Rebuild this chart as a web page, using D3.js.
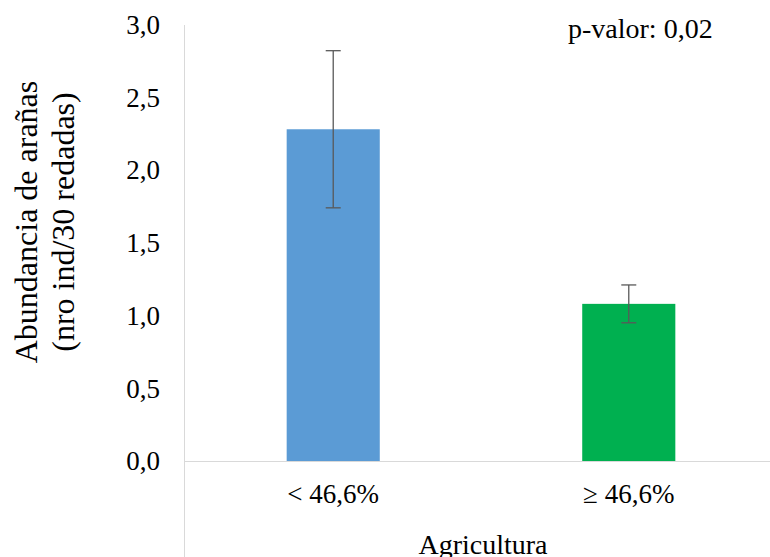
<!DOCTYPE html>
<meta charset="utf-8">
<script src="https://d3js.org/d3.v7.min.js"></script>
<style>
  body { margin: 0; background: #fff; }
</style>
<div id="chart"></div>
<script>

// data
var categories = ["< 46,6%", "\u2265 46,6%"];
var values = [2.28, 1.08];
var errors = [0.54, 0.13];
var colors = ["#5B9BD5", "#00B050"];
var yTicks = [0, 0.5, 1, 1.5, 2, 2.5, 3];

var width = 770, height = 557;
var font = "'Liberation Serif', 'Times New Roman', 'DejaVu Serif', serif";

var svg = d3.select("#chart").append("svg")
    .attr("width", width)
    .attr("height", height)
    .attr("font-family", font);

var x = d3.scaleBand()
    .domain(categories)
    .range([185, 777])
    .paddingInner(0.685)
    .paddingOuter(0.344);

var y = d3.scaleLinear()
    .domain([0, 3])
    .range([461, 24.5]);

// axis lines
svg.append("line")
    .attr("x1", 184.5).attr("x2", 184.5)
    .attr("y1", 25).attr("y2", height)
    .attr("stroke", "#d9d9d9");
svg.append("line")
    .attr("x1", 184).attr("x2", width)
    .attr("y1", y(0) + 0.5).attr("y2", y(0) + 0.5)
    .attr("stroke", "#d9d9d9");

// y tick labels
svg.append("g")
  .selectAll("text")
  .data(yTicks)
  .enter()
  .append("text")
    .attr("x", 160)
    .attr("y", function(d) { return y(d); })
    .attr("dy", "0.35em")
    .attr("text-anchor", "end")
    .style("font-size", "27px")
    .text(function(d) { return d3.format(".1f")(d).replace(".", ","); });

// bars
svg.append("g")
  .selectAll("rect")
  .data(values)
  .enter()
  .append("rect")
    .attr("x", function(d, i) { return x(categories[i]); })
    .attr("width", x.bandwidth())
    .attr("y", function(d) { return y(d); })
    .attr("height", function(d) { return y(0) - y(d); })
    .attr("fill", function(d, i) { return colors[i]; });

// error bars
var eb = svg.append("g")
    .attr("stroke", "#595959")
    .attr("stroke-width", 1.3);
values.forEach(function(v, i) {
  var cx = x(categories[i]) + x.bandwidth() / 2;
  eb.append("line")
    .attr("x1", cx).attr("x2", cx)
    .attr("y1", y(v + errors[i])).attr("y2", y(v - errors[i]));
  [v + errors[i], v - errors[i]].forEach(function(e) {
    eb.append("line")
      .attr("x1", cx - 7.5).attr("x2", cx + 7.5)
      .attr("y1", y(e)).attr("y2", y(e));
  });
});

// category labels
svg.append("g")
  .selectAll("text")
  .data(categories)
  .enter()
  .append("text")
    .attr("x", function(d) { return x(d) + x.bandwidth() / 2; })
    .attr("y", 503)
    .attr("text-anchor", "middle")
    .style("font-size", "27px")
    .text(function(d) { return d; });

// axis titles
svg.append("text")
    .attr("x", 483)
    .attr("y", 554)
    .attr("text-anchor", "middle")
    .style("font-size", "28px")
    .text("Agricultura");

var yt = svg.append("g")
    .attr("transform", "translate(0,222) rotate(-90)");
yt.append("text")
    .attr("x", 0).attr("y", 37)
    .attr("text-anchor", "middle")
    .style("font-size", "32px")
    .text("Abundancia de arañas");
yt.append("text")
    .attr("x", 0).attr("y", 74)
    .attr("text-anchor", "middle")
    .style("font-size", "32px")
    .text("(nro ind/30 redadas)");

// p-value
svg.append("text")
    .attr("x", 568)
    .attr("y", 38)
    .style("font-size", "28px")
    .text("p-valor: 0,02");

</script>
